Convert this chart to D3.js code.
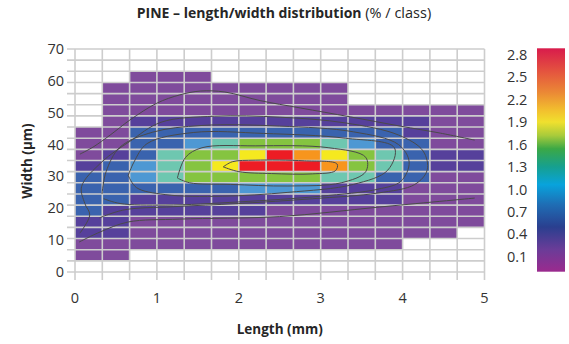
<!DOCTYPE html>
<html>
<head>
<meta charset="utf-8">
<script src="https://cdn.jsdelivr.net/npm/d3@7/dist/d3.min.js"></script>
<style>
  html, body { margin: 0; padding: 0; background: #fff; }
  svg { display: block; font-family: "Open Sans", "Noto Sans", sans-serif; }
</style>
</head>
<body>
<svg id="chart" width="569" height="344"></svg>
<script>
// Class edges: length in 1/3 mm steps, width in 3.5 µm steps
const lengthStep = 1 / 3;
const widthStep = 3.5;
const lengthTicks = [0, 1, 2, 3, 4, 5];
const widthTicks = [0, 10, 20, 30, 40, 50, 60, 70];
const legendTicks = [0.1, 0.4, 0.7, 1.0, 1.3, 1.6, 1.9, 2.2, 2.5, 2.8];

// Share of fibres per class (%), top width class first, 15 length classes each
const P = 0.1, I = 0.35, B = 0.65, L = 0.95, T = 1.25, G = 1.6, Y = 2.0, O = 2.3, R = 2.65, n = null;
const shares = [
  [n, n, n, n, n, n, n, n, n, n, n, n, n, n, n],
  [n, n, n, n, n, n, n, n, n, n, n, n, n, n, n],
  [n, n, P, P, P, n, n, n, n, n, n, n, n, n, n],
  [n, P, P, P, P, P, P, P, P, P, n, n, n, n, n],
  [n, P, P, P, P, P, P, P, P, P, n, n, n, n, n],
  [n, P, P, P, P, P, P, P, P, P, P, P, P, P, P],
  [n, P, I, I, I, I, I, I, I, I, I, I, I, P, P],
  [P, P, B, B, B, B, B, B, B, B, B, B, I, P, P],
  [P, P, B, B, L, T, G, G, G, T, L, B, B, P, P],
  [P, I, B, T, G, G, Y, R, O, Y, G, T, B, I, I],
  [I, B, L, T, G, Y, R, R, R, O, G, T, B, I, I],
  [B, B, L, T, G, G, G, G, G, T, T, B, B, P, P],
  [B, B, B, B, B, B, L, L, L, I, I, I, P, P, P],
  [B, B, I, I, I, I, I, I, I, I, I, I, P, P, P],
  [B, I, I, I, I, I, I, P, P, P, P, P, P, P, P],
  [I, I, P, P, P, P, P, P, P, P, P, P, P, P, P],
  [I, I, P, P, P, P, P, P, P, P, P, P, P, P, n],
  [P, P, P, P, P, P, P, P, P, P, P, P, n, n, n],
  [P, P, n, n, n, n, n, n, n, n, n, n, n, n, n],
  [n, n, n, n, n, n, n, n, n, n, n, n, n, n, n]
];

// Class colours of the map and their lower bounds
const classBounds = [0.2, 0.5, 0.8, 1.1, 1.4, 1.8, 2.15, 2.45];
const classColours = ["#7f4b9c", "#56409b", "#3a63ae", "#4e98d3", "#6ec7b0",
                      "#85c440", "#f5e91f", "#f7951d", "#ed1c24"];

// Continuous legend ramp, top (high) to bottom (low)
const rampStops = [
  [0.00, "#d81b4c"], [0.10, "#e4523f"], [0.20, "#eb8a35"], [0.28, "#f2c12e"],
  [0.33, "#f0e02e"], [0.39, "#a9cb3b"], [0.45, "#3ba846"], [0.53, "#16a08f"],
  [0.61, "#08a3dc"], [0.70, "#1f6db4"], [0.80, "#2a3f8f"], [0.90, "#6a3c98"],
  [1.00, "#9b2a8e"]
];

// Iso-lines (length mm, width µm)
const isoLines = [
  // outermost, upper branch
  [[0.06, 37.0], [0.22, 39.2], [0.43, 43.0], [0.67, 47.7], [1.00, 53.0], [1.28, 55.6],
   [1.53, 56.8], [1.83, 56.5], [2.26, 53.8], [2.75, 51.5], [3.36, 48.7], [3.97, 45.8],
   [4.46, 43.6], [4.88, 41.4]],
  // outermost, lower branch
  [[0.05, 9.4], [0.31, 12.6], [0.65, 15.7], [1.28, 16.6], [2.50, 17.4], [3.72, 20.4], [4.88, 23.2]],
  // wavy left end running round the core
  [[0.06, 12.2], [0.18, 17.9], [0.12, 21.5], [0.08, 26.8], [0.33, 34.6], [0.67, 41.0],
   [1.05, 47.0], [1.70, 48.9], [2.50, 48.6], [3.30, 46.8], [3.95, 43.0], [4.25, 38.0],
   [4.30, 32.0], [4.15, 27.5], [3.70, 24.8], [2.90, 23.0], [2.00, 21.5], [1.20, 20.5],
   [0.60, 19.5], [0.30, 17.0]],
  [[0.33, 24.5], [0.38, 31.5], [0.55, 39.2], [0.95, 43.9], [1.55, 46.0], [2.50, 45.8],
   [3.40, 44.0], [3.95, 40.0], [4.08, 34.5], [3.98, 28.5], [3.70, 26.0], [3.00, 23.8],
   [2.00, 22.0], [1.10, 21.0], [0.55, 21.5], [0.35, 23.0]],
  [[0.65, 30.3], [0.72, 34.5], [0.88, 40.3], [1.45, 43.8], [2.30, 43.5], [3.30, 42.0],
   [3.90, 39.0], [3.82, 32.0], [3.40, 27.5], [2.60, 25.0], [1.80, 23.8], [1.10, 24.3],
   [0.75, 26.5], [0.65, 30.3]],
  [[1.25, 29.5], [1.35, 36.0], [1.55, 39.0], [2.20, 39.6], [3.10, 39.0], [3.55, 36.0],
   [3.55, 31.5], [3.25, 28.0], [2.60, 27.0], [1.90, 27.5], [1.40, 28.0], [1.25, 29.5]],
  [[1.81, 33.0], [1.92, 34.6], [2.20, 35.1], [2.80, 34.9], [3.20, 33.9], [3.18, 31.8],
   [2.90, 30.8], [2.40, 30.9], [2.00, 31.5], [1.81, 33.0]]
];

const svg = d3.select("#chart");
const x = d3.scaleLinear().domain([0, 5]).range([75, 484.5]);
const y = d3.scaleLinear().domain([0, 70]).range([272, 49]);
const colour = d3.scaleThreshold().domain(classBounds).range(classColours);

// Heat-map cells
const nRows = shares.length;
const cells = [];
shares.forEach((row, r) => row.forEach((v, c) => {
  if (v != null) cells.push({ c, w: nRows - 1 - r, v });
}));
svg.append("g").selectAll("rect").data(cells).join("rect")
  .attr("x", d => x(d.c * lengthStep))
  .attr("y", d => y((d.w + 1) * widthStep))
  .attr("width", d => x((d.c + 1) * lengthStep) - x(d.c * lengthStep))
  .attr("height", d => y(d.w * widthStep) - y((d.w + 1) * widthStep))
  .attr("fill", d => colour(d.v));

// Grid over the cells, with short overhang past the axes
const grid = svg.append("g").attr("stroke", "#cdcdcd").attr("stroke-width", 1.6);
const vLines = d3.range(0, 16).map(i => i * lengthStep);
const hLines = d3.range(0, 21).map(i => i * widthStep);
grid.selectAll("line.v").data(vLines).join("line")
  .attr("x1", d => x(d)).attr("x2", d => x(d))
  .attr("y1", y(70)).attr("y2", y(0) + 8);
grid.selectAll("line.h").data(hLines).join("line")
  .attr("y1", d => y(d)).attr("y2", d => y(d))
  .attr("x1", x(0) - 8).attr("x2", x(5));

// Iso-lines
const line = d3.line().x(d => x(d[0])).y(d => y(d[1])).curve(d3.curveCatmullRom.alpha(0.5));
svg.append("g").selectAll("path").data(isoLines).join("path")
  .attr("d", line).attr("fill", "none").attr("stroke", "#4a4a4a").attr("stroke-width", 1);

// Axis labels
const tickFont = 14.5;
svg.append("g").selectAll("text").data(lengthTicks).join("text")
  .attr("x", d => x(d)).attr("y", 303)
  .attr("text-anchor", "middle").attr("font-size", tickFont).attr("fill", "#333")
  .text(d => d);
svg.append("g").selectAll("text").data(widthTicks).join("text")
  .attr("x", 64).attr("y", d => y(d) + 5)
  .attr("text-anchor", "end").attr("font-size", tickFont).attr("fill", "#333")
  .text(d => d);

svg.append("text").attr("x", x(2.5)).attr("y", 334)
  .attr("text-anchor", "middle").attr("font-size", 13.5).attr("font-weight", "bold")
  .attr("fill", "#262626").text("Length (mm)");
svg.append("text").attr("transform", "translate(32,161) rotate(-90)")
  .attr("text-anchor", "middle").attr("font-size", 13.5).attr("font-weight", "bold")
  .attr("fill", "#262626").text("Width (µm)");

// Title
const title = svg.append("text").attr("x", 284).attr("y", 18)
  .attr("text-anchor", "middle").attr("font-size", 14).attr("fill", "#262626");
title.append("tspan").attr("font-weight", "bold").text("PINE – length/width distribution");
title.append("tspan").attr("font-size", 14.5).text(" (% / class)");

// Legend
const defs = svg.append("defs");
const grad = defs.append("linearGradient").attr("id", "ramp")
  .attr("x1", 0).attr("x2", 0).attr("y1", 0).attr("y2", 1);
grad.selectAll("stop").data(rampStops).join("stop")
  .attr("offset", d => d[0]).attr("stop-color", d => d[1]);
const ly = d3.scaleLinear().domain([-0.1, 2.89]).range([271.7, 48.3]);
svg.append("rect").attr("x", 537).attr("y", ly(2.89)).attr("width", 28)
  .attr("height", ly(-0.1) - ly(2.89)).attr("fill", "url(#ramp)");
svg.append("g").selectAll("text").data(legendTicks).join("text")
  .attr("x", 507).attr("y", d => ly(d) + 5)
  .attr("font-size", tickFont).attr("fill", "#333")
  .text(d => d.toFixed(1));
</script>
</body>
</html>
